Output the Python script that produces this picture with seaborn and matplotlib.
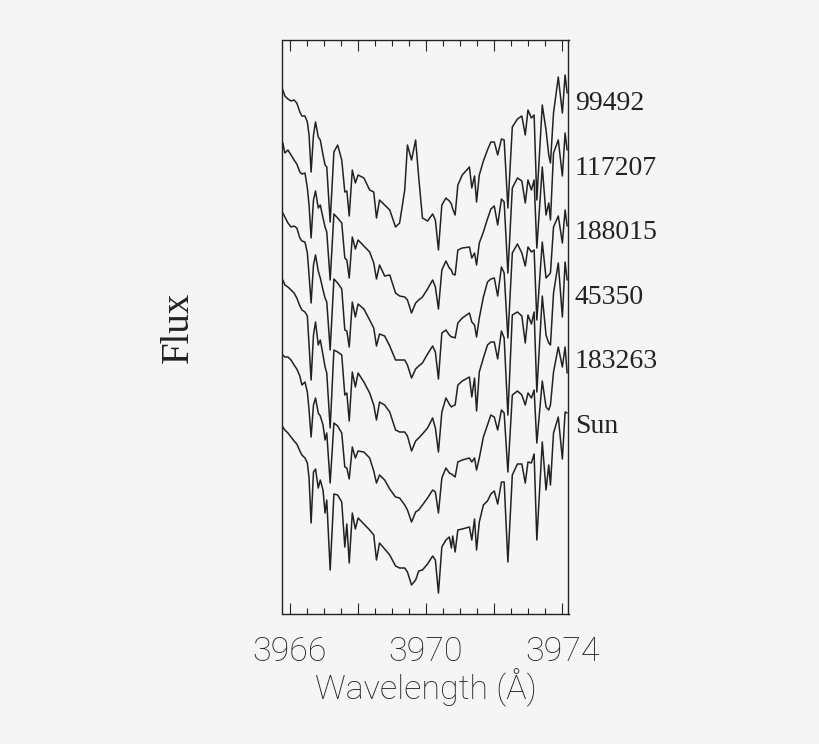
import matplotlib
matplotlib.use("Agg")
import matplotlib.pyplot as plt
from matplotlib.ticker import MultipleLocator
import pandas as pd
import seaborn as sns

# wavelength samples shared by all the spectra (Angstrom)
wavelength = [
    3965.80, 3965.86, 3965.95, 3966.04, 3966.13, 3966.21, 3966.30, 3966.36, 3966.45, 3966.52,
    3966.57, 3966.63, 3966.70, 3966.76, 3966.84, 3966.90, 3966.98, 3967.04, 3967.09, 3967.19,
    3967.30, 3967.41, 3967.53, 3967.62, 3967.68, 3967.75, 3967.84, 3967.93, 3968.01, 3968.18,
    3968.35, 3968.47, 3968.55, 3968.64, 3968.79, 3968.94, 3969.11, 3969.23, 3969.38, 3969.46,
    3969.58, 3969.70, 3969.79, 3969.90, 3970.05, 3970.20, 3970.28, 3970.37, 3970.47, 3970.59,
    3970.69, 3970.75, 3970.79, 3970.86, 3970.94, 3971.07, 3971.28, 3971.35, 3971.43, 3971.49, 3971.57,
    3971.69, 3971.81, 3971.91, 3972.01, 3972.11, 3972.22, 3972.30, 3972.41, 3972.54, 3972.69,
    3972.82, 3972.92, 3973.00, 3973.10, 3973.18, 3973.26, 3973.42, 3973.53, 3973.61, 3973.66,
    3973.75, 3973.89, 3974.01, 3974.09, 3974.15,
]

# flux of each star, offset vertically, arbitrary units
flux_99492 = [
    524, 518, 515, 513, 514, 511, 502, 498, 498, 492,
    479, 442, 479, 492, 477, 474, 459, 449, 447, 392,
    462, 469, 454, 422, 423, 398, 444, 431, 439, 436,
    424, 422, 396, 414, 409, 404, 387, 391, 424, 469,
    454, 474, 437, 396, 393, 400, 394, 364, 409, 416,
    413, 410, 405, 399, 429, 439, 447, 426, 438, 412, 439,
    453, 464, 472, 472, 459, 475, 474, 406, 487, 495,
    498, 479, 504, 496, 499, 414, 509, 484, 459, 451,
    501, 537, 501, 539, 521,
]
flux_117207 = [
    471, 461, 464, 459, 454, 450, 442, 440, 441, 426,
    409, 376, 414, 423, 406, 409, 396, 387, 382, 334,
    400, 396, 391, 356, 354, 336, 377, 365, 374, 368,
    362, 351, 335, 349, 338, 339, 321, 318, 317, 314,
    301, 311, 314, 317, 325, 334, 327, 305, 344, 353,
    346, 344, 340, 339, 364, 366, 367, 356, 361, 349, 371,
    382, 395, 405, 408, 389, 415, 412, 341, 426, 436,
    433, 411, 434, 424, 434, 366, 447, 399, 411, 394,
    461, 474, 438, 481, 464,
]
flux_188015 = [
    401, 397, 391, 387, 388, 386, 376, 373, 372, 361,
    339, 311, 349, 359, 343, 336, 324, 316, 312, 264,
    335, 331, 325, 284, 283, 267, 312, 297, 310, 305,
    294, 286, 268, 280, 278, 268, 254, 254, 254, 249,
    236, 245, 248, 251, 260, 268, 262, 235, 281, 284,
    279, 277, 277, 276, 291, 296, 301, 292, 289, 277, 296,
    317, 332, 335, 336, 318, 347, 341, 276, 361, 370,
    361, 348, 367, 362, 364, 294, 372, 336, 339, 341,
    387, 398, 371, 404, 388,
]
flux_45350 = [
    334, 329, 327, 324, 321, 316, 308, 304, 302, 298,
    269, 234, 279, 292, 269, 274, 259, 247, 241, 186,
    264, 262, 259, 219, 221, 193, 242, 227, 241, 232,
    221, 209, 194, 212, 209, 202, 184, 182, 182, 178,
    163, 173, 176, 180, 186, 196, 186, 162, 202, 216,
    210, 207, 208, 209, 229, 233, 237, 217, 236, 203, 242,
    256, 269, 272, 272, 255, 283, 276, 199, 299, 302,
    298, 271, 299, 290, 302, 222, 318, 279, 271, 269,
    321, 351, 297, 352, 334,
]
flux_183263 = [
    259, 257, 257, 254, 249, 245, 238, 229, 232, 222,
    204, 177, 209, 216, 201, 198, 189, 174, 181, 131,
    191, 188, 181, 147, 146, 135, 167, 156, 163, 162,
    156, 143, 131, 139, 134, 125, 117, 116, 109, 104,
    92, 102, 104, 109, 116, 124, 122, 101, 136, 146,
    141, 140, 139, 137, 152, 154, 156, 152, 156, 144, 156,
    177, 189, 199, 197, 184, 204, 201, 142, 219, 223,
    219, 209, 221, 216, 224, 171, 233, 207, 204, 209,
    242, 267, 247, 267, 241,
]
flux_sun = [
    187, 184, 181, 177, 173, 170, 163, 159, 156, 151,
    136, 91, 142, 145, 126, 134, 124, 101, 114, 44,
    120, 119, 112, 67, 90, 51, 101, 85, 96, 90,
    84, 79, 54, 71, 65, 59, 48, 46, 46, 42,
    29, 34, 43, 44, 50, 58, 54, 21, 67, 74,
    77, 66, 78, 62, 84, 85, 87, 74, 95, 64, 92,
    109, 113, 120, 123, 110, 132, 132, 52, 139, 150,
    150, 131, 152, 151, 160, 74, 172, 124, 149, 129,
    181, 197, 155, 202, 201,
]

star_names = ["99492", "117207", "188015", "45350", "183263", "Sun"]
star_flux = [flux_99492, flux_117207, flux_188015, flux_45350, flux_183263, flux_sun]
label_levels = [512, 447, 383, 318, 254, 189]
major_ticks = [3966, 3968, 3970, 3972, 3974]
major_labels = ["3966", "", "3970", "", "3974"]

background = "#f5f5f5"
ink = "#222222"

sns.set_theme(style="white", rc={"figure.facecolor": background, "axes.facecolor": background})

frames = [pd.DataFrame({"wavelength": wavelength, "flux": f, "star": name})
          for name, f in zip(star_names, star_flux)]
spectra = pd.concat(frames, ignore_index=True)

fig = plt.figure(figsize=(8.2, 7.44), dpi=100)
ax = fig.add_axes([282.5 / 820, 1 - 614 / 744, 286 / 820, 574 / 744])

sns.lineplot(data=spectra, x="wavelength", y="flux", hue="star", hue_order=star_names,
             palette=[ink] * 6, legend=False, errorbar=None, sort=False, linewidth=1.1,
             solid_joinstyle="round", ax=ax)

ax.set_xlim(3965.79, 3974.19)
ax.set_ylim(0, 574)
ax.set_yticks([])

ax.set_xticks(major_ticks, labels=major_labels)
ax.xaxis.set_minor_locator(MultipleLocator(0.5))
ax.tick_params(axis="x", which="major", direction="in", top=True, bottom=True,
               length=8, width=0.8, color=ink, pad=16)
ax.tick_params(axis="x", which="minor", direction="in", top=True, bottom=True,
               length=4, width=0.8, color=ink)
for tick in ax.get_xticklabels():
    tick.set_fontfamily("Roboto")
    tick.set_fontweight("light")
    tick.set_fontsize(24.5)
    tick.set_color(ink)

for spine in ax.spines.values():
    spine.set_visible(True)
    spine.set_color(ink)
    spine.set_linewidth(1.0)

ax.set_xlabel("Wavelength (Å)", family="Roboto", weight="light", fontsize=24.5,
              color=ink, labelpad=0)
ax.set_ylabel("Flux", family="Liberation Serif", fontsize=28, color=ink, labelpad=62)

for name, level in zip(star_names, label_levels):
    ax.annotate(name, xy=(1, level), xycoords=("axes fraction", "data"),
                xytext=(4.5, -1), textcoords="offset points", va="center", ha="left",
                family="Liberation Serif", fontsize=20, color=ink)

fig.savefig("out.png", dpi=100, facecolor=background)
